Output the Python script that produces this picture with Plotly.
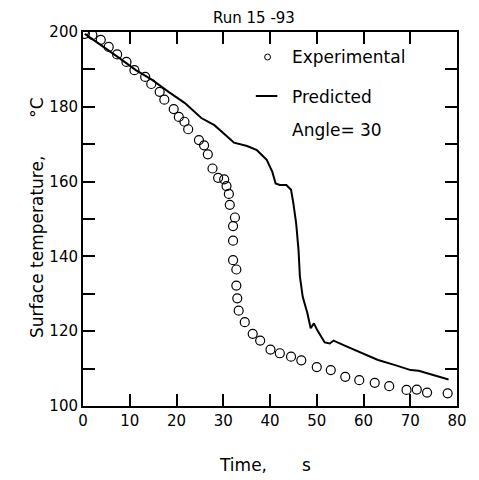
import plotly.graph_objects as go

# Experimental data (circles)
exp_time = [0.4, 2.0, 3.8, 5.5, 7.3, 9.3, 11.0, 13.3, 14.6, 16.4, 17.4, 19.4, 20.5, 21.7, 22.5,
            24.8, 25.9, 26.7, 27.7, 28.9, 30.2, 30.7, 31.2, 31.4, 32.5, 32.1, 32.1, 32.1, 32.8,
            32.8, 33.0, 33.3, 34.6, 36.3, 37.9, 40.1, 42.1, 44.5, 46.7, 50.0, 53.0, 56.1, 59.1,
            62.4, 65.5, 69.2, 71.4, 73.6, 78.0]
exp_temp = [199.5, 199.2, 197.9, 196.0, 194.0, 192.0, 189.8, 188.0, 186.1, 184.0, 181.9, 179.4,
            177.3, 176.0, 174.0, 171.1, 169.7, 167.3, 163.5, 161.0, 160.6, 158.8, 156.7, 153.8,
            150.4, 148.1, 144.2, 139.0, 136.5, 132.2, 128.8, 125.5, 122.4, 119.3, 117.5, 115.1,
            114.1, 113.2, 112.2, 110.4, 109.6, 107.8, 106.9, 106.2, 105.3, 104.3, 104.4, 103.6,
            103.4]

# Predicted curve (line)
pred_time = [0.4, 4.3, 7.8, 11.3, 14.8, 18.3, 21.8, 25.3, 28.1, 30.9, 32.3, 35.1, 37.2, 39.3,
             40.5, 41.2, 42.1, 43.5, 44.5, 45.0, 45.6, 46.1, 46.4, 47.0, 48.0, 48.7, 49.4, 50.1,
             51.7, 52.8, 53.6, 56.1, 59.6, 63.1, 66.6, 70.1, 71.8, 75.0, 78.2]
pred_temp = [199.5, 196.2, 193.0, 189.8, 187.2, 184.0, 181.0, 177.0, 175.1, 172.0, 170.4, 169.5,
             168.4, 165.8, 162.6, 159.5, 159.1, 159.1, 157.8, 154.2, 148.8, 141.7, 134.6, 129.2,
             124.8, 120.8, 122.1, 120.3, 117.0, 116.7, 117.5, 116.1, 114.1, 112.3, 111.0, 109.6,
             109.4, 108.3, 107.1]

x_ticks = [0, 10, 20, 30, 40, 50, 60, 70, 80]
y_ticks = [100, 110, 120, 130, 140, 150, 160, 170, 180, 190, 200]
y_ticktext = ["100", "", "120", "", "140", "", "160", "", "180", "", "200"]

FONT = "DejaVu Sans"
OFF = 8  # page body margin offset
W, H = 479 - OFF, 480 - OFF
L, R, T, B = 83 - OFF, 466 - OFF, 32 - OFF, 406 - OFF

def px(x):
    return (x - OFF - L) / (R - L)

def py(y):
    return (B - (y - OFF)) / (B - T)

fig = go.Figure()
fig.add_trace(go.Scatter(x=pred_time, y=pred_temp, mode="lines",
                         line=dict(color="black", width=2), showlegend=False))
fig.add_trace(go.Scatter(x=exp_time, y=exp_temp, mode="markers",
                         marker=dict(symbol="circle-open", size=9, color="black",
                                     line=dict(width=1.2, color="black")),
                         showlegend=False))

axis_common = dict(showline=True, linecolor="black", linewidth=2, mirror="ticks",
                   ticks="inside", ticklen=12, tickwidth=1.5, tickcolor="black",
                   showgrid=False, zeroline=False,
                   tickfont=dict(family=FONT, size=15, color="black"))

fig.update_layout(
    width=W, height=H,
    margin=dict(l=L, r=W - R, t=T, b=H - B),
    paper_bgcolor="white", plot_bgcolor="white",
    xaxis=dict(range=[0, 80], tickvals=x_ticks, ticktext=[str(v) for v in x_ticks],
               **axis_common),
    yaxis=dict(range=[100, 200], tickvals=y_ticks, ticktext=y_ticktext, **axis_common),
)

annotations = [
    dict(text="Run 15 -93", x=px(258), y=py(18), size=15),
    dict(text="Time,", x=px(247), y=py(465), size=17),
    dict(text="s", x=px(312), y=py(465), size=17),
    dict(text="Surface temperature,&nbsp;&nbsp;&nbsp;&nbsp;&nbsp;&nbsp;&nbsp;°C", x=px(36), y=py(218), size=17, angle=-90),
    dict(text="Experimental", x=px(295), y=py(57), size=17, xanchor="left"),
    dict(text="Predicted", x=px(295), y=py(97), size=17, xanchor="left"),
    dict(text="Angle= 30", x=px(295), y=py(130), size=17, xanchor="left"),
]
for a in annotations:
    fig.add_annotation(text=a["text"], x=a["x"], y=a["y"], xref="paper", yref="paper",
                       showarrow=False, xanchor=a.get("xanchor", "center"), yanchor="middle",
                       textangle=a.get("angle", 0),
                       font=dict(family=FONT, size=a["size"], color="black"))

# legend symbols
fig.add_shape(type="line", xref="paper", yref="paper", x0=px(260), x1=px(282),
              y0=py(96), y1=py(96), line=dict(color="black", width=2))
fig.add_shape(type="circle", xref="paper", yref="paper", x0=px(269), x1=px(275),
              y0=py(54), y1=py(60), line=dict(color="black", width=1))

fig.write_html("out.html")
